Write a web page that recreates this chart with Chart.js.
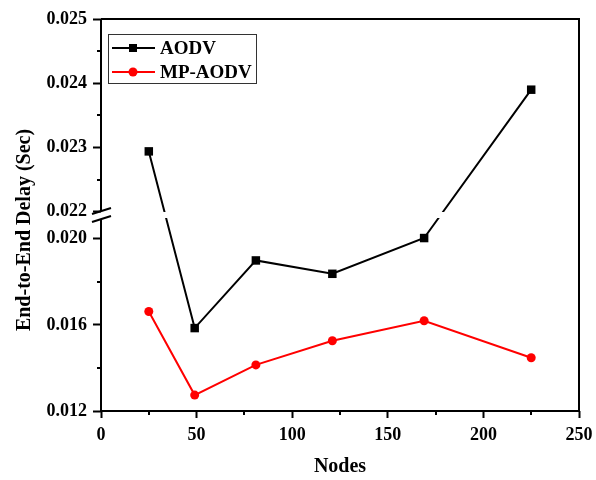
<!DOCTYPE html>
<html>
<head>
<meta charset="utf-8">
<script src="https://cdn.jsdelivr.net/npm/chart.js@4.4.1/dist/chart.umd.min.js"></script>
<style>
html, body { margin: 0; padding: 0; background: #fff; }
#wrap { width: 596px; height: 480px; }
</style>
</head>
<body>
<div id="wrap"><canvas id="delayChart"></canvas></div>
<script>
const nodes = [25, 49, 81, 121, 169, 225];
const aodvDelay = [0.02294, 0.01585, 0.01899, 0.01837, 0.02003, 0.02390];
const mpAodvDelay = [0.01662, 0.01274, 0.01414, 0.01526, 0.01619, 0.01447];

const xTicks = [0, 25, 50, 75, 100, 125, 150, 175, 200, 225, 250];
const xLabels = [0, 50, 100, 150, 200, 250];
const yTicks = [0.012, 0.014, 0.016, 0.018, 0.020, 0.022, 0.0225, 0.023, 0.0235, 0.024, 0.0245, 0.025];
const yLabels = [0.012, 0.016, 0.020, 0.022, 0.023, 0.024, 0.025];

// broken axis: two linear pieces, each half of the height
const lowPart = [0.012, 0.0211];
const highPart = [0.02195, 0.025];

const serif = "'Liberation Serif', 'Times New Roman', serif";
const hasValue = (list, v) => list.some(t => Math.abs(t - v) < 1e-9);

class BrokenLinearScale extends Chart.LinearScale {
    buildTicks() {
        return yTicks.map(v => ({ value: v }));
    }
    getPixelForValue(value) {
        const half = (this.bottom - this.top) / 2;
        const mid = this.bottom - half;
        if (value <= lowPart[1]) {
            return this.bottom - (value - lowPart[0]) / (lowPart[1] - lowPart[0]) * half;
        }
        return mid - (value - highPart[0]) / (highPart[1] - highPart[0]) * half;
    }
    getValueForPixel(pixel) {
        const half = (this.bottom - this.top) / 2;
        const mid = this.bottom - half;
        if (pixel >= mid) {
            return lowPart[0] + (this.bottom - pixel) / half * (lowPart[1] - lowPart[0]);
        }
        return highPart[0] + (mid - pixel) / half * (highPart[1] - highPart[0]);
    }
}
BrokenLinearScale.id = "brokenLinear";
BrokenLinearScale.defaults = {};
Chart.register(BrokenLinearScale);

/*-----------------------------------
  frame, minor ticks, break, legend
-----------------------------------*/
const decorations = {
    id: "decorations",
    afterDatasetsDraw(chart) {
        const { ctx, chartArea: a, scales } = chart;
        const mid = scales.y.getPixelForValue(lowPart[1]);
        ctx.save();
        ctx.fillStyle = "#fff";
        ctx.fillRect(a.left + 2, mid - 3, a.right - a.left - 4, 6);
        ctx.restore();
    },
    afterDraw(chart) {
        const { ctx, chartArea: a, scales } = chart;
        const mid = scales.y.getPixelForValue(lowPart[1]);
        ctx.save();
        ctx.strokeStyle = "#000";
        ctx.lineWidth = 2;
        ctx.lineCap = "butt";

        ctx.beginPath();
        ctx.moveTo(a.left, a.top);
        ctx.lineTo(a.right, a.top);
        ctx.lineTo(a.right, a.bottom);
        ctx.lineTo(a.left, a.bottom);
        ctx.lineTo(a.left, mid + 4);
        ctx.moveTo(a.left, mid - 4);
        ctx.lineTo(a.left, a.top);
        ctx.stroke();

        // minor ticks
        ctx.beginPath();
        yTicks.filter(v => !hasValue(yLabels, v)).forEach(v => {
            const py = Math.round(scales.y.getPixelForValue(v));
            ctx.moveTo(a.left - 4, py);
            ctx.lineTo(a.left, py);
        });
        xTicks.filter(v => !xLabels.includes(v)).forEach(v => {
            const px = Math.round(scales.x.getPixelForValue(v));
            ctx.moveTo(px, a.bottom);
            ctx.lineTo(px, a.bottom + 4);
        });
        ctx.stroke();

        // axis break marks
        ctx.beginPath();
        ctx.moveTo(a.left - 9, mid - 1);
        ctx.lineTo(a.left + 10, mid - 7);
        ctx.moveTo(a.left - 9, mid + 7);
        ctx.lineTo(a.left + 10, mid + 1);
        ctx.stroke();

        // y title
        ctx.fillStyle = "#000";
        ctx.font = "bold 20px " + serif;
        ctx.textAlign = "center";
        ctx.textBaseline = "middle";
        ctx.translate(25, (a.top + a.bottom) / 2 + 15);
        ctx.rotate(-Math.PI / 2);
        ctx.fillText("End-to-End Delay (Sec)", 0, 0);
        ctx.restore();

        // legend
        ctx.save();
        ctx.strokeStyle = "#333";
        ctx.lineWidth = 1;
        ctx.strokeRect(108.5, 34.5, 148, 49);
        const rows = [
            { label: "AODV", color: "#000", style: "rect", y: 48 },
            { label: "MP-AODV", color: "#ff0000", style: "circle", y: 72 }
        ];
        rows.forEach(r => {
            ctx.strokeStyle = r.color;
            ctx.fillStyle = r.color;
            ctx.lineWidth = 2;
            ctx.beginPath();
            ctx.moveTo(112, r.y);
            ctx.lineTo(155, r.y);
            ctx.stroke();
            ctx.beginPath();
            if (r.style === "rect") {
                ctx.rect(129, r.y - 4, 8, 8);
            } else {
                ctx.arc(133, r.y, 4.5, 0, Math.PI * 2);
            }
            ctx.fill();
            ctx.fillStyle = "#000";
            ctx.font = "bold 19px " + serif;
            ctx.textAlign = "left";
            ctx.textBaseline = "middle";
            ctx.fillText(r.label, 160, r.y + 1);
        });
        ctx.restore();
    }
};

const canvas = document.getElementById("delayChart");

new Chart(canvas, {
    type: "line",
    data: {
        labels: nodes,
        datasets: [
            {
                label: "AODV",
                data: nodes.map((n, i) => ({ x: n, y: aodvDelay[i] })),
                borderColor: "#000",
                backgroundColor: "#000",
                borderWidth: 2,
                pointStyle: "rect",
                pointRadius: 6,
                pointBorderWidth: 0,
                tension: 0
            },
            {
                label: "MP-AODV",
                data: nodes.map((n, i) => ({ x: n, y: mpAodvDelay[i] })),
                borderColor: "#ff0000",
                backgroundColor: "#ff0000",
                borderWidth: 2,
                pointStyle: "circle",
                pointRadius: 4.5,
                pointBorderWidth: 0,
                tension: 0
            }
        ]
    },
    options: {
        responsive: true,
        maintainAspectRatio: false,
        animation: false,
        layout: {
            padding: { top: 19, right: 17, left: 0, bottom: 0 }
        },
        plugins: {
            legend: { display: false },
            tooltip: { enabled: false }
        },
        scales: {
            x: {
                type: "linear",
                min: 0,
                max: 250,
                afterBuildTicks: scale => {
                    scale.ticks = xTicks.map(v => ({ value: v }));
                },
                afterFit: scale => {
                    scale.height = 69;
                    scale.paddingLeft = 0;
                    scale.paddingRight = 0;
                },
                border: { display: false },
                grid: {
                    drawOnChartArea: false,
                    tickLength: 7,
                    tickWidth: 2,
                    tickColor: c => xLabels.includes(c.tick.value) ? "#000" : "rgba(0,0,0,0)"
                },
                ticks: {
                    autoSkip: false,
                    maxRotation: 0,
                    padding: 7,
                    color: "#000",
                    font: { family: serif, size: 18, weight: "bold" },
                    callback: v => xLabels.includes(v) ? String(v) : ""
                },
                title: {
                    display: true,
                    text: "Nodes",
                    color: "#000",
                    font: { family: serif, size: 20, weight: "bold" },
                    padding: { top: 0, bottom: 1 }
                }
            },
            y: {
                type: "brokenLinear",
                min: lowPart[0],
                max: highPart[1],
                afterFit: scale => {
                    scale.width = 101;
                    scale.paddingTop = 0;
                    scale.paddingBottom = 0;
                },
                border: { display: false },
                grid: {
                    drawOnChartArea: false,
                    tickLength: 8,
                    tickWidth: 2,
                    tickColor: c => hasValue(yLabels, c.tick.value) ? "#000" : "rgba(0,0,0,0)"
                },
                ticks: {
                    autoSkip: false,
                    padding: 6,
                    color: "#000",
                    font: { family: serif, size: 18, weight: "bold" },
                    callback: v => hasValue(yLabels, v) ? v.toFixed(3) : ""
                }
            }
        }
    },
    plugins: [decorations]
});
</script>
</body>
</html>
